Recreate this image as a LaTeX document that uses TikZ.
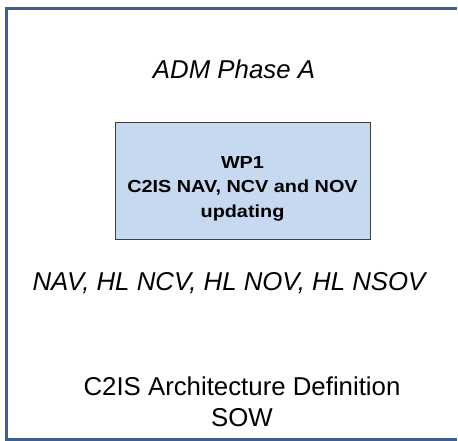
\documentclass[tikz,border=0pt]{standalone}
\usepackage{fontspec}
\setmainfont{Liberation Sans}
\newfontfamily\wpfont[FakeStretch=1.14]{Liberation Sans}
\definecolor{framecol}{RGB}{60,96,143}
\definecolor{boxfill}{RGB}{198,217,241}
\definecolor{boxline}{RGB}{64,64,64}
\tikzset{
  frame/.style={draw=framecol, line width=3pt},
  wpbox/.style={draw=boxline, fill=boxfill, line width=1pt, rectangle, inner sep=0pt},
  bigtext/.style={font=\fontsize{25.8}{31}\selectfont, inner sep=0pt, align=center},
  wptext/.style={font=\wpfont\bfseries\fontsize{17.4}{24.5}\selectfont, inner sep=0pt, align=center}
}
\begin{document}
\begin{tikzpicture}[x=1pt,y=-1pt]
\useasboundingbox (0,0) rectangle (458,441);
\draw[frame] (457,8.5) -- (6.5,8.5) -- (6.5,439.5) -- (457,439.5);
\node[bigtext, anchor=base] (adm) at (234,79) {\itshape ADM Phase A};
\node[wpbox, minimum width=255pt, minimum height=116pt] (wp1) at (242.5,181) {};
\node[wptext] (wp1t) at (242.5,188.5) {WP1\\C2IS NAV, NCV and NOV\\updating};
\node[bigtext, anchor=base] (nav) at (229,290) {\itshape NAV, HL NCV, HL NOV, HL NSOV};
\node[bigtext, anchor=base] (sow) at (242,426) {C2IS Architecture Definition\\SOW};
\end{tikzpicture}
\end{document}
